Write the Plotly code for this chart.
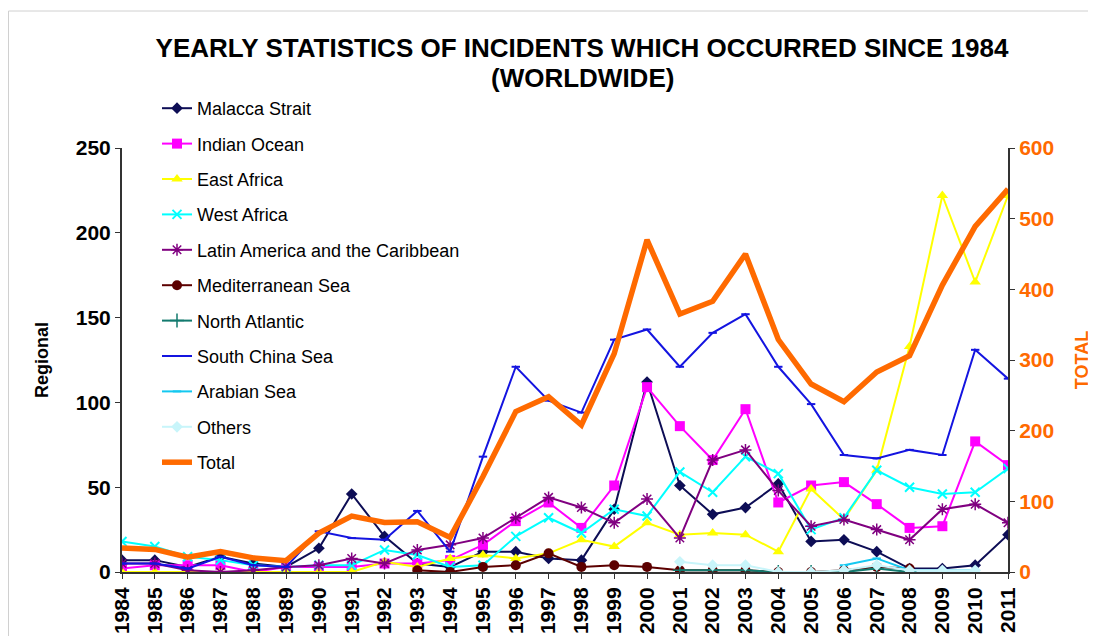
import plotly.graph_objects as go

years = list(range(1984, 2012))

malacca = [7, 7, 3, 9, 5, 3, 14, 46, 21, 5, 3, 12, 12, 8, 7, 37, 112, 51, 34, 38, 52, 18, 19, 12, 2, 2, 4, 22]
indian_ocean = [2, 4, 4, 4, 0, 3, 3, 3, 5, 5, 7, 16, 30, 41, 26, 51, 109, 86, 66, 96, 41, 51, 53, 40, 26, 27, 77, 63]
east_africa = [0, 0, 0, 0, 0, 0, 0, 0, 6, 3, 8, 10, 8, 11, 19, 15, 29, 22, 23, 22, 12, 49, 31, 60, 133, 222, 171, 222]
west_africa = [18, 15, 9, 7, 4, 3, 4, 4, 13, 10, 3, 4, 21, 32, 23, 37, 33, 59, 47, 68, 58, 25, 32, 60, 50, 46, 47, 61]
latin_america = [5, 5, 1, 0, 1, 3, 4, 8, 5, 13, 16, 20, 32, 44, 38, 29, 43, 20, 66, 72, 48, 27, 31, 25, 19, 37, 40, 29]
mediterranean = [None] * 9 + [1, 0, 3, 4, 11, 3, 4, 3, 1, 1, 1, 0, 0, 1, 3, 2, None, None, None]
north_atlantic = [None] * 17 + [1, 1, 1, 0, 0, 0, 2, 0, None, None, None]
south_china_sea = [5, 5, 2, 9, 4, 3, 24, 20, 19, 36, 12, 68, 121, 101, 94, 137, 143, 121, 141, 152, 121, 99, 69, 67, 72, 69, 131, 114]
arabian_sea = [None] * 22 + [4, 8, 1, 1, 1, None]
others = [None] * 17 + [6, 4, 4, 0, 0, 1, 4, 1, 1, 1, None]
total = [34, 32, 21, 29, 20, 16, 55, 79, 70, 71, 49, 135, 227, 248, 208, 309, 470, 365, 383, 450, 329, 266, 241, 283, 306, 406, 489, 542]

FONT = "Liberation Sans, Arial, sans-serif"
ORANGE = "#ff6a00"

series = [
    ("Malacca Strait", malacca, "#0d0d55", dict(symbol="diamond", size=9)),
    ("Indian Ocean", indian_ocean, "#ff00ff", dict(symbol="square", size=10)),
    ("East Africa", east_africa, "#ffff00", dict(symbol="triangle-up", size=10)),
    ("West Africa", west_africa, "#00ffff", dict(symbol="x-thin", size=9, line=dict(color="#00ffff", width=2))),
    ("Latin America and the Caribbean", latin_america, "#800080", dict(symbol="asterisk", size=10, line=dict(color="#800080", width=1.5))),
    ("Mediterranean Sea", mediterranean, "#5c0000", dict(symbol="circle", size=10)),
    ("North Atlantic", north_atlantic, "#127a6e", dict(symbol="cross-thin", size=10, line=dict(color="#127a6e", width=1.5))),
    ("South China Sea", south_china_sea, "#1414e0", dict(symbol="line-ew", size=6, line=dict(color="#1414e0", width=2))),
    ("Arabian Sea", arabian_sea, "#14c8f0", dict(symbol="line-ew", size=6, line=dict(color="#14c8f0", width=2))),
    ("Others", others, "#c8f5fa", dict(symbol="diamond", size=9)),
]

fig = go.Figure()
for name, vals, color, marker in series:
    m = dict(color=color)
    m.update(marker)
    fig.add_trace(go.Scatter(
        x=years, y=vals, name=name, mode="lines+markers",
        line=dict(color=color, width=2), marker=m, legendgroup=name,
        connectgaps=False,
    ))

fig.add_trace(go.Scatter(
    x=years, y=total, name="Total", mode="lines", yaxis="y2",
    line=dict(color=ORANGE, width=5.5), legendgroup="Total",
))

# the page body adds an 8px offset; figure is sized to fit the 1096x636 window
OFF = 8
W, H = 1096 - OFF, 636 - OFF
L, R, T, B = 122 - OFF, 88, 148 - OFF, 64
pw, ph = W - L - R, H - T - B

def px_x(sx):
    return (sx - OFF - L) / pw

def px_y(sy):
    return (H - B - (sy - OFF)) / ph

fig.update_layout(
    width=W, height=H,
    margin=dict(l=L, r=R, t=T, b=B, autoexpand=False),
    paper_bgcolor="white", plot_bgcolor="white",
    font=dict(family=FONT, color="black"),
    title=dict(
        text="YEARLY STATISTICS OF INCIDENTS WHICH OCCURRED SINCE 1984",
        font=dict(family=FONT, size=26, color="black", weight="bold"),
        x=(582 - OFF) / W, xanchor="center", y=1 - 40 / H, yanchor="middle", yref="container",
    ),
    annotations=[dict(
        text="(WORLDWIDE)", xref="paper", yref="paper", x=px_x(582), y=px_y(78),
        xanchor="center", yanchor="middle", showarrow=False,
        font=dict(family=FONT, size=26, color="black", weight="bold"),
    )],
    xaxis=dict(
        range=[1984, 2011], tickmode="array", tickvals=years, ticktext=[str(y) for y in years],
        tickangle=-90, tickfont=dict(size=21, weight="bold", color="black"),
        showgrid=False, zeroline=False, showline=True, linecolor="#333", linewidth=2,
        ticks="outside", ticklen=5, tickcolor="#333", automargin=False,
    ),
    yaxis=dict(
        range=[0, 250], tickvals=[0, 50, 100, 150, 200, 250],
        tickfont=dict(size=21, weight="bold", color="black"),
        showgrid=False, zeroline=False, showline=True, linecolor="#333", linewidth=2,
        ticks="outside", ticklen=5, tickcolor="#333", automargin=False,
        title=dict(text="Regional", font=dict(size=18, weight="bold", color="black"), standoff=22),
    ),
    yaxis2=dict(
        range=[0, 600], tickvals=[0, 100, 200, 300, 400, 500, 600], overlaying="y", side="right",
        tickfont=dict(size=21, weight="bold", color=ORANGE),
        showgrid=False, zeroline=False, showline=True, linecolor="#333", linewidth=2,
        ticks="outside", ticklen=5, tickcolor="#333", automargin=False,
        title=dict(text="TOTAL", font=dict(size=18, weight="bold", color=ORANGE), standoff=22),
    ),
    legend=dict(
        x=px_x(157), y=px_y(90), xanchor="left", yanchor="top",
        font=dict(family=FONT, size=18, color="black"),
        bgcolor="rgba(0,0,0,0)", tracegroupgap=9, traceorder="grouped",
        itemwidth=30, maxheight=560,
    ),
    showlegend=True,
    shapes=[dict(
        type="rect", xref="paper", yref="paper",
        x0=px_x(8.5), x1=px_x(1094), y0=px_y(700), y1=px_y(11),
        line=dict(color="#d0d0d0", width=1), layer="below",
    )],
)

fig.write_html("out.html")
